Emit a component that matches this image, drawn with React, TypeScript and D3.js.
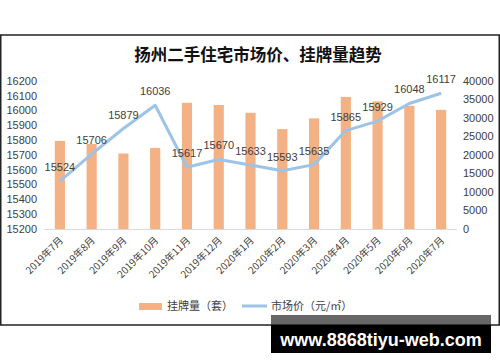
import React from "react";
import * as d3 from "d3";

const categories = ["2019年7月","2019年8月","2019年9月","2019年10月","2019年11月","2019年12月","2020年1月","2020年2月","2020年3月","2020年4月","2020年5月","2020年6月","2020年7月"];
const listings = [23800, 23000, 20400, 21900, 34100, 33500, 31400, 27000, 29900, 35700, 34500, 33300, 32200];
const prices = [15524, 15706, 15879, 16036, 15617, 15670, 15633, 15593, 15635, 15865, 15929, 16048, 16117];
const leftTicks = [15200,15300,15400,15500,15600,15700,15800,15900,16000,16100,16200];
const rightTicks = [0,5000,10000,15000,20000,25000,30000,35000,40000];
const title = "扬州二手住宅市场价、挂牌量趋势";
const legendBar = "挂牌量（套）";
const legendLine = "市场价（元/㎡）";
const watermark = "www.8868tiyu-web.com";

export default function App() {
  const W = 500, H = 362;
  const left = 44, right = 457, top = 81, bottom = 229;
  const x = d3.scaleBand<string>().domain(categories).range([left, right]).paddingInner(0.68).paddingOuter(0.34);
  const yL = d3.scaleLinear().domain([15200, 16200]).range([bottom, top]);
  const yR = d3.scaleLinear().domain([0, 40000]).range([bottom, top]);
  const cx = (c: string) => (x(c) as number) + x.bandwidth() / 2;
  const line = d3.line<number>().x((_, i) => cx(categories[i])).y(d => yL(d));
  const tickFont = "'Liberation Sans', Arial, sans-serif";
  const cjk = "'Noto Sans CJK SC', sans-serif";
  return (
    <svg width={W} height={H} style={{ position: "absolute", left: 0, top: 0, background: "#fff" }}>
      <rect x={0.75} y={35} width={498.5} height={290} fill="#fff" stroke="#222" strokeWidth={1.5} />
      <text x={258} y={61} textAnchor="middle" fontFamily={cjk} fontWeight={700} fontSize={16.5} fill="#111">{title}</text>
      {listings.map((v, i) => (
        <rect key={i} x={x(categories[i])} y={yR(v)} width={x.bandwidth()} height={bottom - yR(v)} fill="#F4B183" />
      ))}
      <line x1={left} x2={right} y1={bottom + 0.5} y2={bottom + 0.5} stroke="#d9d9d9" strokeWidth={1} />
      {leftTicks.map(t => (
        <text key={t} x={37} y={yL(t)} dy="0.35em" textAnchor="end" fontFamily={tickFont} fontSize={11} fill="#404040">{t}</text>
      ))}
      {rightTicks.map(t => (
        <text key={t} x={463} y={yR(t)} dy="0.35em" textAnchor="start" fontFamily={tickFont} fontSize={11} fill="#404040">{t}</text>
      ))}
      <path d={line(prices) || ""} fill="none" stroke="#9DC3E6" strokeWidth={3} strokeLinejoin="round" />
      {prices.map((v, i) => (
        <text key={i} x={cx(categories[i])} y={yL(v) - 10} textAnchor="middle" fontFamily={tickFont} fontSize={11} fill="#404040">{v}</text>
      ))}
      {categories.map(c => (
        <text key={c} transform={`translate(${cx(c) + 4},${bottom + 12}) rotate(-45)`} textAnchor="end" fontFamily={cjk} fontSize={10} fill="#404040">{c}</text>
      ))}
      <rect x={139} y={303} width={23} height={7} fill="#F4B183" />
      <text x={167} y={306} dy="0.35em" fontFamily={cjk} fontSize={11} fill="#404040">{legendBar}</text>
      <line x1={242} x2={267} y1={306} y2={306} stroke="#9DC3E6" strokeWidth={3} />
      <text x={271} y={306} dy="0.35em" fontFamily={cjk} fontSize={11} fill="#404040">{legendLine}</text>
      <rect x={271} y={315} width={220} height={10} fill="#666" />
      <rect x={271} y={324.5} width={220} height={28.5} fill="#000" />
      <text x={381} y={340} dy="0.35em" textAnchor="middle" fontFamily="'Liberation Sans', Arial, sans-serif" fontWeight={700} fontSize={18} fill="#fff">{watermark}</text>
    </svg>
  );
}
